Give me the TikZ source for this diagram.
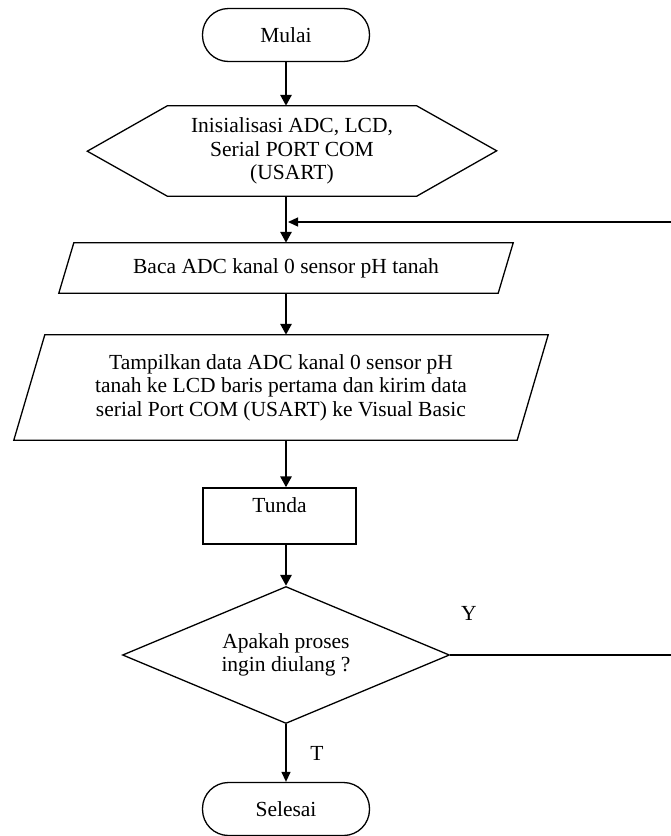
\documentclass[tikz,border=0pt]{standalone}
\usepackage{fontspec}
\setmainfont{Liberation Serif}
\usetikzlibrary{shapes.geometric, arrows.meta, calc}

\begin{document}
\begin{tikzpicture}[x=1pt, y=-1pt,
    font=\fontsize{21.5}{23.5}\selectfont,
    every node/.style={align=center, inner sep=0pt},
    outline/.style={draw, line width=1.3pt},
    terminal/.style={outline, rounded corners=26pt, minimum width=167, minimum height=53},
    flow/.style={line width=2.8pt, -{Triangle[length=11pt, width=11pt]}},
    flowthin/.style={line width=1.3pt, -{Triangle[length=10pt, width=9pt]}}]
  \useasboundingbox (0, 0) rectangle (671, 836);
  \clip (0, 0) rectangle (671, 836);

  % shapes
  \node (start) [terminal] at (286, 35) {Mulai};
  \node (init) [minimum width=249, minimum height=90] at (292, 151)
    {Inisialisasi ADC, LCD,\\Serial PORT COM\\(USART)};
  \draw [outline] (init.north west) -- (init.north east) -- ++(80, 45) -- (init.south east)
    -- (init.south west) -- ++(-80, -45) -- cycle;
  \node (read) [minimum width=439, minimum height=50] at (286, 268) {Baca ADC kanal 0 sensor pH tanah};
  \draw [outline] ($(read.north west)+(7.5, 0)$) -- ($(read.north east)+(7.5, 0)$)
    -- ($(read.south east)+(-7.5, 0)$) -- ($(read.south west)+(-7.5, 0)$) -- cycle;
  \node (show) [minimum width=503, minimum height=105] at (281, 387.5)
    {Tampilkan data ADC kanal 0 sensor pH\\tanah ke LCD baris pertama dan kirim data\\serial Port COM (USART) ke Visual Basic};
  \draw [outline] ($(show.north west)+(15.5, 0)$) -- ($(show.north east)+(15.5, 0)$)
    -- ($(show.south east)+(-15.5, 0)$) -- ($(show.south west)+(-15.5, 0)$) -- cycle;
  \node (delay) [outline, minimum width=153, minimum height=56] at (279.5, 516) {\raisebox{22pt}{Tunda}};
  \node (dec) [outline, diamond, aspect=2.4, minimum width=327, minimum height=137] at (286, 655)
    {Apakah proses\\ingin diulang ?};
  \node (stop) [terminal] at (286, 809) {Selesai};
  \node (yes) at (469, 613) {Y};
  \node (no) at (317, 753) {T};

  \coordinate (join) at (288, 222);
  \coordinate (edge) at (700, 222);

  % flow
  \draw [flow] (start) -- (start |- init.north);
  \draw [flow] (init.south -| read) -- (read);
  \draw [flow] (read) -- (read |- show.north);
  \draw [flow] (show.south -| read) -- (read |- delay.north);
  \draw [flow] (delay.south -| read) -- (dec);
  \draw [flowthin] (dec) -- (stop);
  \draw [flowthin] (dec.east) -- (dec.east -| edge) |- (join);
\end{tikzpicture}
\end{document}
